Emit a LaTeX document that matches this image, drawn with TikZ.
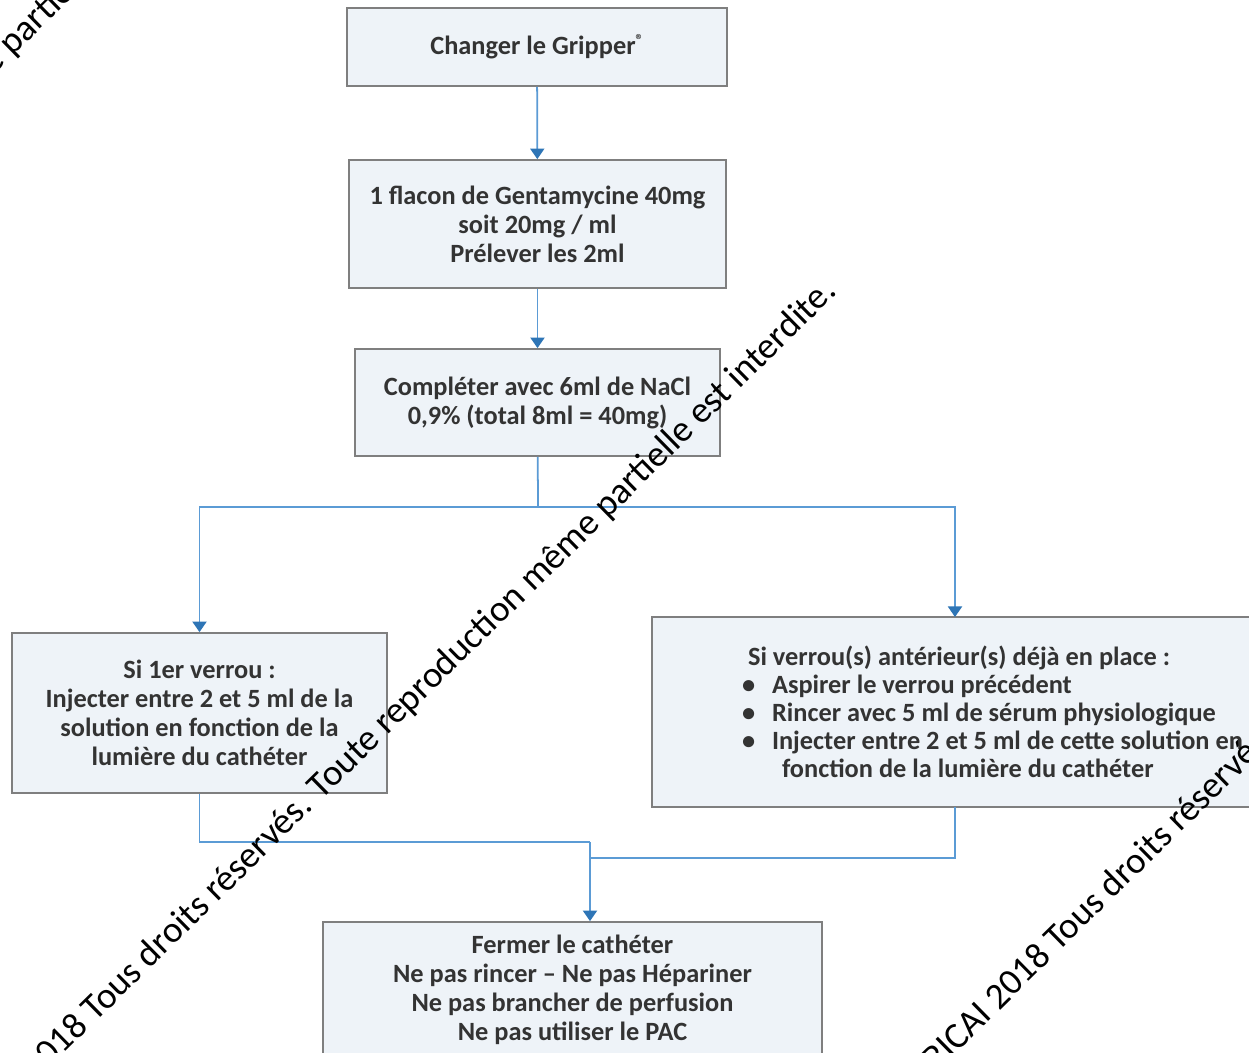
\documentclass[tikz,border=0pt]{standalone}
\usepackage{fontspec}
\setmainfont{Carlito}
\usetikzlibrary{arrows.meta,calc}

\definecolor{boxfill}{HTML}{EEF3F8}
\definecolor{boxline}{HTML}{7F7F7F}
\definecolor{linkblue}{HTML}{5B9BD5}
\definecolor{tipblue}{HTML}{2E75B6}
\definecolor{textgray}{HTML}{333333}

\tikzset{
  stepbox/.style={draw=boxline, fill=boxfill, line width=1pt, align=center,
    text=textgray, font=\fontsize{15}{16.5}\selectfont\bfseries, inner sep=0pt},
  link/.style={draw=linkblue, line width=1pt},
  linkarrow/.style={link, -{Triangle[width=8pt,length=6pt,color=tipblue]}},
  stamp/.style={rotate=44.5, inner sep=0pt, font=\fontsize{21}{21}\selectfont, text=black},
}

\begin{document}
\begin{tikzpicture}[x=0.02cm, y=-0.02cm]
\useasboundingbox (0,0) rectangle (1249,1053);
\clip (0,0) rectangle (1249,1053);
\fill[white] (0,0) rectangle (1249,1053);

% steps
\node[stepbox, minimum width=7.6cm, minimum height=1.56cm] (gripper) at (537,47)
  {Changer le Gripper\raisebox{0.7ex}{\fontsize{9}{9}\selectfont ®}};
\node[stepbox, minimum width=7.54cm, minimum height=2.56cm] (flacon) at (537.5,224)
  {1 flacon de Gentamycine 40mg\\soit 20mg / ml\\Prélever les 2ml};
\node[stepbox, minimum width=7.3cm, minimum height=2.14cm] (nacl) at (537.5,402.5)
  {Compléter avec 6ml de NaCl\\0,9\% (total 8ml = 40mg)};

% two cases
\node[stepbox, minimum width=7.5cm, minimum height=3.2cm] (first) at (199.5,713)
  {Si 1er verrou :\\Injecter entre 2 et 5 ml de la\\solution en fonction de la\\lumière du cathéter};
\node[stepbox, minimum width=13.96cm, minimum height=3.8cm, text width=10.36cm,
  align=flush left, inner xsep=1.8cm, font=\fontsize{15}{15.9}\selectfont\bfseries] (previous) at (1001,712)
  {\hspace*{1.2mm}Si verrou(s) antérieur(s) déjà en place :\\
   \makebox[6mm][l]{\textbullet}Aspirer le verrou précédent\\
   \makebox[6mm][l]{\textbullet}Rincer avec 5 ml de sérum physiologique\\
   \makebox[6mm][l]{\textbullet}Injecter entre 2 et 5 ml de cette solution en\\
   \hspace*{8mm}fonction de la lumière du cathéter};

% end
\node[stepbox, minimum width=9.98cm, minimum height=2.72cm] (close) at (572.5,990)
  {Fermer le cathéter\\Ne pas rincer – Ne pas Hépariner\\Ne pas brancher de perfusion\\Ne pas utiliser le PAC};

% connectors
\coordinate (split) at (538,507);
\coordinate (rightdrop) at (955,617);
\coordinate (rightout) at (955,807);
\coordinate (leftjoin) at (590,842);
\coordinate (rightjoin) at (590,858);

\draw[linkarrow] (gripper) -- (flacon);
\draw[linkarrow] (flacon) -- (nacl);
\draw[link] (nacl) -- (split);
\draw[linkarrow] (split) -| (first);
\draw[linkarrow] (split) -| (rightdrop);
\draw[link] (first) |- (leftjoin);
\draw[link] (rightout) |- (rightjoin);
\draw[linkarrow] (leftjoin) -- (leftjoin |- close.north);

% overprinted notice
\node[stamp, anchor=base east] (stampmain) at (838,293)
  {RICAI 2018 Tous droits réservés. Toute reproduction même partielle est interdite.};
\node[stamp, anchor=base west] (stampright) at (936,1073)
  {RICAI 2018 Tous droits réservés. Toute reproduction};
\node[stamp, anchor=base west] (stamptop) at (-62,130)
  {même partielle est interdite.};
\end{tikzpicture}
\end{document}
